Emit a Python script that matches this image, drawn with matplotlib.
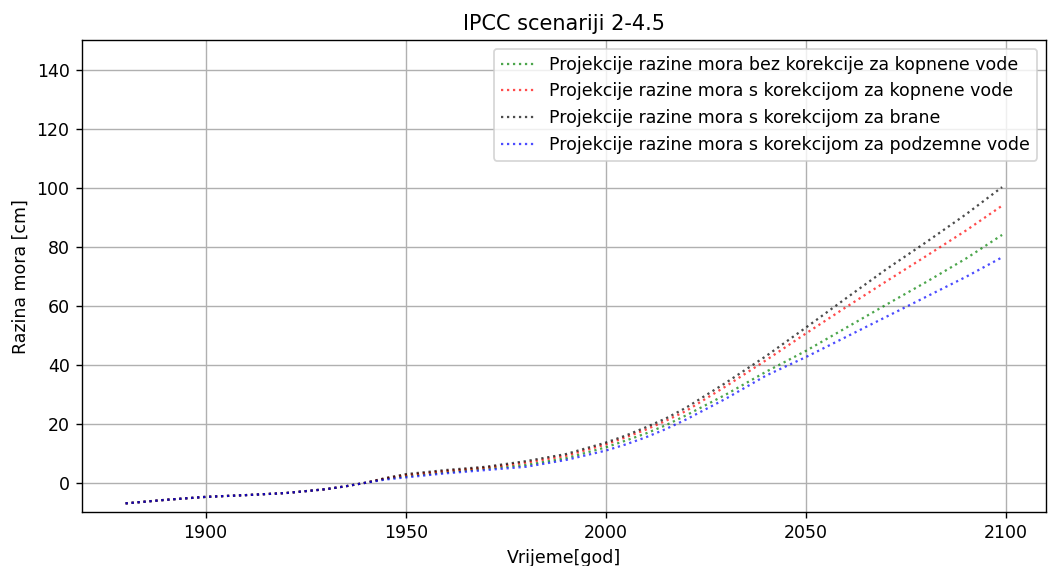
import matplotlib
matplotlib.use('Agg')
import matplotlib.pyplot as plt

# godine i projekcije razine mora [cm]
years = [1880, 1890, 1900, 1910, 1920, 1930, 1935, 1940, 1945, 1950, 1960, 1970, 1980,
         1990, 2000, 2005, 2010, 2015, 2020, 2030, 2040, 2050, 2060, 2070, 2080, 2090, 2099]

bez_korekcije = [-7.0, -5.8, -4.8, -4.2, -3.5, -2.2, -1.2, 0.0, 1.3, 2.2, 3.6, 4.8, 6.0,
                 8.3, 12.0, 14.3, 16.7, 19.5, 22.8, 29.9, 37.6, 44.7, 52.5, 60.3, 68.0, 76.0, 84.0]
kopnene_vode = [-7.0, -5.8, -4.8, -4.2, -3.5, -2.2, -1.2, 0.0, 1.5, 2.6, 4.0, 5.1, 6.8,
                9.1, 13.0, 15.4, 18.0, 21.0, 24.3, 32.7, 41.5, 50.6, 59.5, 68.2, 76.8, 85.5, 93.9]
brane = [-7.0, -5.8, -4.8, -4.2, -3.5, -2.2, -1.2, 0.0, 1.6, 2.9, 4.3, 5.4, 7.3,
         9.7, 13.6, 16.0, 18.8, 21.8, 25.4, 33.9, 42.9, 52.6, 62.5, 72.3, 81.5, 91.0, 100.2]
podzemne_vode = [-7.0, -5.8, -4.8, -4.2, -3.5, -2.2, -1.2, 0.0, 1.1, 1.8, 3.2, 4.3, 5.4,
                 7.7, 10.9, 13.0, 15.4, 18.2, 21.4, 28.5, 36.3, 42.6, 49.4, 56.2, 63.0, 69.8, 76.4]

DPI = 125
fig, ax = plt.subplots(figsize=(1048 / DPI, 566 / DPI), dpi=DPI)
fig.subplots_adjust(left=0.078, right=0.998, top=0.929, bottom=0.095)

lw = 1.3
ax.plot(years, bez_korekcije, 'g:', lw=lw, alpha=0.7, label='Projekcije razine mora bez korekcije za kopnene vode')
ax.plot(years, kopnene_vode, 'r:', lw=lw, alpha=0.7, label='Projekcije razine mora s korekcijom za kopnene vode')
ax.plot(years, brane, 'k:', lw=lw, alpha=0.7, label='Projekcije razine mora s korekcijom za brane')
ax.plot(years, podzemne_vode, 'b:', lw=lw, alpha=0.7, label='Projekcije razine mora s korekcijom za podzemne vode')

ax.set_ylim(-10, 150)
ax.set_yticks(range(0, 141, 20))
ax.set_xticks([1900, 1950, 2000, 2050, 2100])
ax.grid(True)
ax.set_xlabel('Vrijeme[god]')
ax.set_ylabel('Razina mora [cm]')
ax.set_title('IPCC scenariji 2-4.5')
ax.legend(loc='upper right')

fig.savefig('out.png', dpi=DPI)
